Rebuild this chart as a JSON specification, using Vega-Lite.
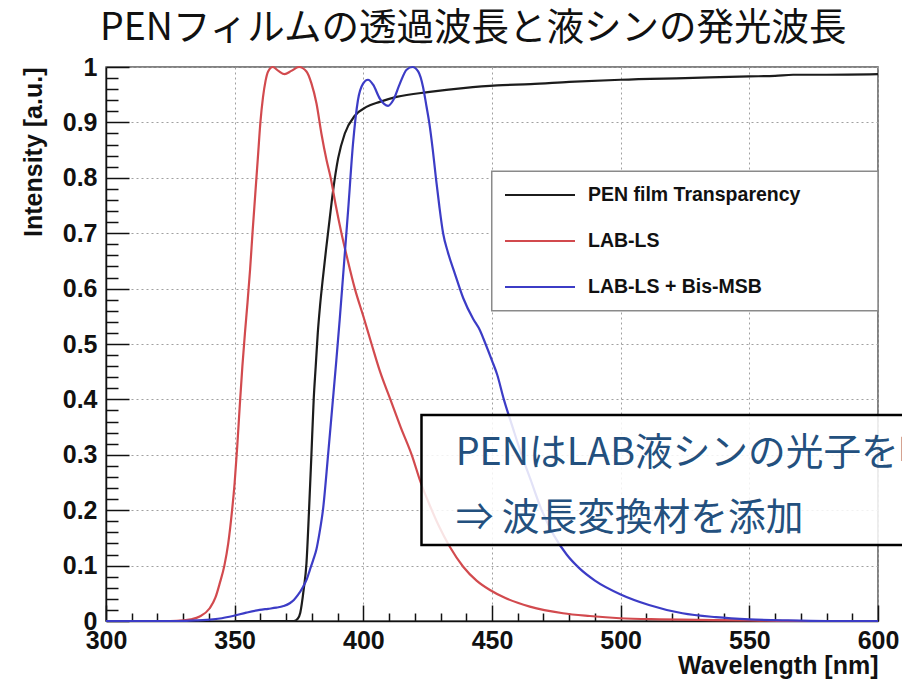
{
  "$schema": "https://vega.github.io/schema/vega-lite/v6.json",
  "width": 772,
  "height": 554,
  "autosize": {"type": "none"},
  "padding": {"left": 106, "top": 67, "right": 24, "bottom": 60},
  "background": "white",
  "title": {
    "text": "PENフィルムの透過波長と液シンの発光波長",
    "font": "Noto Sans CJK JP",
    "fontSize": 37.5,
    "fontWeight": "normal",
    "color": "#111111",
    "anchor": "start",
    "frame": "group",
    "dx": -6,
    "offset": 8
  },
  "config": {
    "view": {"stroke": "#5a5a5a", "strokeWidth": 1.5}
  },
  "datasets": {
    "spectra": [
      {"s": "PEN film Transparency", "wl": 350, "v": 0},
      {"s": "PEN film Transparency", "wl": 373, "v": 0},
      {"s": "PEN film Transparency", "wl": 374.5, "v": 0.004},
      {"s": "PEN film Transparency", "wl": 375.5, "v": 0.015},
      {"s": "PEN film Transparency", "wl": 376.8, "v": 0.056},
      {"s": "PEN film Transparency", "wl": 377.9, "v": 0.104},
      {"s": "PEN film Transparency", "wl": 378.9, "v": 0.2},
      {"s": "PEN film Transparency", "wl": 379.8, "v": 0.297},
      {"s": "PEN film Transparency", "wl": 380.7, "v": 0.399},
      {"s": "PEN film Transparency", "wl": 381.5, "v": 0.46},
      {"s": "PEN film Transparency", "wl": 382.3, "v": 0.52},
      {"s": "PEN film Transparency", "wl": 383.2, "v": 0.57},
      {"s": "PEN film Transparency", "wl": 384.3, "v": 0.62},
      {"s": "PEN film Transparency", "wl": 385.5, "v": 0.67},
      {"s": "PEN film Transparency", "wl": 386.9, "v": 0.725},
      {"s": "PEN film Transparency", "wl": 388.2, "v": 0.775},
      {"s": "PEN film Transparency", "wl": 390.2, "v": 0.835},
      {"s": "PEN film Transparency", "wl": 392.8, "v": 0.88},
      {"s": "PEN film Transparency", "wl": 396.7, "v": 0.912},
      {"s": "PEN film Transparency", "wl": 401.2, "v": 0.928},
      {"s": "PEN film Transparency", "wl": 406.4, "v": 0.937},
      {"s": "PEN film Transparency", "wl": 412.9, "v": 0.946},
      {"s": "PEN film Transparency", "wl": 425.8, "v": 0.955},
      {"s": "PEN film Transparency", "wl": 438.8, "v": 0.962},
      {"s": "PEN film Transparency", "wl": 452, "v": 0.967},
      {"s": "PEN film Transparency", "wl": 465, "v": 0.969},
      {"s": "PEN film Transparency", "wl": 480, "v": 0.973},
      {"s": "PEN film Transparency", "wl": 500, "v": 0.977},
      {"s": "PEN film Transparency", "wl": 525, "v": 0.98},
      {"s": "PEN film Transparency", "wl": 550, "v": 0.983},
      {"s": "PEN film Transparency", "wl": 560, "v": 0.984},
      {"s": "PEN film Transparency", "wl": 567, "v": 0.986},
      {"s": "PEN film Transparency", "wl": 580, "v": 0.986},
      {"s": "PEN film Transparency", "wl": 600, "v": 0.987},

      {"s": "LAB-LS", "wl": 300, "v": 0},
      {"s": "LAB-LS", "wl": 325, "v": 0},
      {"s": "LAB-LS", "wl": 330, "v": 0.001},
      {"s": "LAB-LS", "wl": 333, "v": 0.003},
      {"s": "LAB-LS", "wl": 336.4, "v": 0.008},
      {"s": "LAB-LS", "wl": 340.3, "v": 0.023},
      {"s": "LAB-LS", "wl": 342.5, "v": 0.042},
      {"s": "LAB-LS", "wl": 344.2, "v": 0.068},
      {"s": "LAB-LS", "wl": 346, "v": 0.1},
      {"s": "LAB-LS", "wl": 347.5, "v": 0.14},
      {"s": "LAB-LS", "wl": 349, "v": 0.2},
      {"s": "LAB-LS", "wl": 350, "v": 0.25},
      {"s": "LAB-LS", "wl": 351, "v": 0.315},
      {"s": "LAB-LS", "wl": 352, "v": 0.39},
      {"s": "LAB-LS", "wl": 353, "v": 0.46},
      {"s": "LAB-LS", "wl": 354, "v": 0.52},
      {"s": "LAB-LS", "wl": 355, "v": 0.575},
      {"s": "LAB-LS", "wl": 356, "v": 0.635},
      {"s": "LAB-LS", "wl": 357, "v": 0.705},
      {"s": "LAB-LS", "wl": 358, "v": 0.77},
      {"s": "LAB-LS", "wl": 359, "v": 0.835},
      {"s": "LAB-LS", "wl": 360, "v": 0.9},
      {"s": "LAB-LS", "wl": 361, "v": 0.945},
      {"s": "LAB-LS", "wl": 362, "v": 0.975},
      {"s": "LAB-LS", "wl": 363, "v": 0.992},
      {"s": "LAB-LS", "wl": 364.8, "v": 1.0},
      {"s": "LAB-LS", "wl": 367, "v": 0.993},
      {"s": "LAB-LS", "wl": 369.4, "v": 0.987},
      {"s": "LAB-LS", "wl": 372, "v": 0.993},
      {"s": "LAB-LS", "wl": 375, "v": 1.0},
      {"s": "LAB-LS", "wl": 377.9, "v": 0.992},
      {"s": "LAB-LS", "wl": 379.8, "v": 0.971},
      {"s": "LAB-LS", "wl": 381.8, "v": 0.934},
      {"s": "LAB-LS", "wl": 383.7, "v": 0.88},
      {"s": "LAB-LS", "wl": 385.7, "v": 0.832},
      {"s": "LAB-LS", "wl": 387.3, "v": 0.8},
      {"s": "LAB-LS", "wl": 389.3, "v": 0.75},
      {"s": "LAB-LS", "wl": 391.5, "v": 0.7},
      {"s": "LAB-LS", "wl": 394, "v": 0.65},
      {"s": "LAB-LS", "wl": 396.7, "v": 0.6},
      {"s": "LAB-LS", "wl": 400, "v": 0.55},
      {"s": "LAB-LS", "wl": 403.2, "v": 0.5},
      {"s": "LAB-LS", "wl": 406.5, "v": 0.45},
      {"s": "LAB-LS", "wl": 410.5, "v": 0.4},
      {"s": "LAB-LS", "wl": 414.5, "v": 0.35},
      {"s": "LAB-LS", "wl": 418.8, "v": 0.3},
      {"s": "LAB-LS", "wl": 422.3, "v": 0.25},
      {"s": "LAB-LS", "wl": 425.8, "v": 0.209},
      {"s": "LAB-LS", "wl": 429.5, "v": 0.17},
      {"s": "LAB-LS", "wl": 433.6, "v": 0.134},
      {"s": "LAB-LS", "wl": 438.8, "v": 0.098},
      {"s": "LAB-LS", "wl": 444, "v": 0.073},
      {"s": "LAB-LS", "wl": 449.2, "v": 0.056},
      {"s": "LAB-LS", "wl": 455, "v": 0.042},
      {"s": "LAB-LS", "wl": 464.7, "v": 0.026},
      {"s": "LAB-LS", "wl": 477.6, "v": 0.014},
      {"s": "LAB-LS", "wl": 488, "v": 0.009},
      {"s": "LAB-LS", "wl": 499.7, "v": 0.005},
      {"s": "LAB-LS", "wl": 515, "v": 0.003},
      {"s": "LAB-LS", "wl": 530, "v": 0.002},
      {"s": "LAB-LS", "wl": 550, "v": 0.001},
      {"s": "LAB-LS", "wl": 570, "v": 0},
      {"s": "LAB-LS", "wl": 600, "v": 0},

      {"s": "LAB-LS + Bis-MSB", "wl": 300, "v": 0},
      {"s": "LAB-LS + Bis-MSB", "wl": 328, "v": 0},
      {"s": "LAB-LS + Bis-MSB", "wl": 335, "v": 0.001},
      {"s": "LAB-LS + Bis-MSB", "wl": 341.6, "v": 0.003},
      {"s": "LAB-LS + Bis-MSB", "wl": 345, "v": 0.005},
      {"s": "LAB-LS + Bis-MSB", "wl": 349.3, "v": 0.009},
      {"s": "LAB-LS + Bis-MSB", "wl": 354.5, "v": 0.015},
      {"s": "LAB-LS + Bis-MSB", "wl": 359.7, "v": 0.02},
      {"s": "LAB-LS + Bis-MSB", "wl": 363, "v": 0.022},
      {"s": "LAB-LS + Bis-MSB", "wl": 366.2, "v": 0.024},
      {"s": "LAB-LS + Bis-MSB", "wl": 369, "v": 0.027},
      {"s": "LAB-LS + Bis-MSB", "wl": 371.4, "v": 0.032},
      {"s": "LAB-LS + Bis-MSB", "wl": 373, "v": 0.038},
      {"s": "LAB-LS + Bis-MSB", "wl": 374.6, "v": 0.047},
      {"s": "LAB-LS + Bis-MSB", "wl": 376.6, "v": 0.062},
      {"s": "LAB-LS + Bis-MSB", "wl": 378, "v": 0.075},
      {"s": "LAB-LS + Bis-MSB", "wl": 379.2, "v": 0.092},
      {"s": "LAB-LS + Bis-MSB", "wl": 380.5, "v": 0.11},
      {"s": "LAB-LS + Bis-MSB", "wl": 381.8, "v": 0.13},
      {"s": "LAB-LS + Bis-MSB", "wl": 383, "v": 0.16},
      {"s": "LAB-LS + Bis-MSB", "wl": 384.3, "v": 0.2},
      {"s": "LAB-LS + Bis-MSB", "wl": 386.3, "v": 0.3},
      {"s": "LAB-LS + Bis-MSB", "wl": 388, "v": 0.39},
      {"s": "LAB-LS + Bis-MSB", "wl": 389.5, "v": 0.47},
      {"s": "LAB-LS + Bis-MSB", "wl": 390.8, "v": 0.543},
      {"s": "LAB-LS + Bis-MSB", "wl": 392.1, "v": 0.621},
      {"s": "LAB-LS + Bis-MSB", "wl": 394.1, "v": 0.742},
      {"s": "LAB-LS + Bis-MSB", "wl": 396, "v": 0.862},
      {"s": "LAB-LS + Bis-MSB", "wl": 397.9, "v": 0.94},
      {"s": "LAB-LS + Bis-MSB", "wl": 399.9, "v": 0.97},
      {"s": "LAB-LS + Bis-MSB", "wl": 401.8, "v": 0.977},
      {"s": "LAB-LS + Bis-MSB", "wl": 403.8, "v": 0.968},
      {"s": "LAB-LS + Bis-MSB", "wl": 406.4, "v": 0.943},
      {"s": "LAB-LS + Bis-MSB", "wl": 409.6, "v": 0.93},
      {"s": "LAB-LS + Bis-MSB", "wl": 411.6, "v": 0.94},
      {"s": "LAB-LS + Bis-MSB", "wl": 414.2, "v": 0.97},
      {"s": "LAB-LS + Bis-MSB", "wl": 416.8, "v": 0.995},
      {"s": "LAB-LS + Bis-MSB", "wl": 419.1, "v": 1.0},
      {"s": "LAB-LS + Bis-MSB", "wl": 421.3, "v": 0.992},
      {"s": "LAB-LS + Bis-MSB", "wl": 423.2, "v": 0.964},
      {"s": "LAB-LS + Bis-MSB", "wl": 424.5, "v": 0.93},
      {"s": "LAB-LS + Bis-MSB", "wl": 425.6, "v": 0.9},
      {"s": "LAB-LS + Bis-MSB", "wl": 427, "v": 0.85},
      {"s": "LAB-LS + Bis-MSB", "wl": 428.2, "v": 0.8},
      {"s": "LAB-LS + Bis-MSB", "wl": 429.5, "v": 0.75},
      {"s": "LAB-LS + Bis-MSB", "wl": 431, "v": 0.7},
      {"s": "LAB-LS + Bis-MSB", "wl": 432.9, "v": 0.665},
      {"s": "LAB-LS + Bis-MSB", "wl": 435.5, "v": 0.628},
      {"s": "LAB-LS + Bis-MSB", "wl": 438.8, "v": 0.583},
      {"s": "LAB-LS + Bis-MSB", "wl": 442.7, "v": 0.545},
      {"s": "LAB-LS + Bis-MSB", "wl": 445.3, "v": 0.525},
      {"s": "LAB-LS + Bis-MSB", "wl": 447.5, "v": 0.5},
      {"s": "LAB-LS + Bis-MSB", "wl": 450, "v": 0.47},
      {"s": "LAB-LS + Bis-MSB", "wl": 452, "v": 0.445},
      {"s": "LAB-LS + Bis-MSB", "wl": 454.6, "v": 0.4},
      {"s": "LAB-LS + Bis-MSB", "wl": 458, "v": 0.35},
      {"s": "LAB-LS + Bis-MSB", "wl": 461.5, "v": 0.3},
      {"s": "LAB-LS + Bis-MSB", "wl": 465, "v": 0.255},
      {"s": "LAB-LS + Bis-MSB", "wl": 469.3, "v": 0.2},
      {"s": "LAB-LS + Bis-MSB", "wl": 474, "v": 0.155},
      {"s": "LAB-LS + Bis-MSB", "wl": 479, "v": 0.12},
      {"s": "LAB-LS + Bis-MSB", "wl": 484, "v": 0.095},
      {"s": "LAB-LS + Bis-MSB", "wl": 490, "v": 0.073},
      {"s": "LAB-LS + Bis-MSB", "wl": 500, "v": 0.048},
      {"s": "LAB-LS + Bis-MSB", "wl": 511, "v": 0.029},
      {"s": "LAB-LS + Bis-MSB", "wl": 524, "v": 0.014},
      {"s": "LAB-LS + Bis-MSB", "wl": 537, "v": 0.007},
      {"s": "LAB-LS + Bis-MSB", "wl": 550, "v": 0.003},
      {"s": "LAB-LS + Bis-MSB", "wl": 565, "v": 0.001},
      {"s": "LAB-LS + Bis-MSB", "wl": 580, "v": 0},
      {"s": "LAB-LS + Bis-MSB", "wl": 600, "v": 0}
    ]
  },
  "resolve": {"axis": {"x": "independent", "y": "independent"}},
  "layer": [
    {
      "data": {"name": "spectra"},
      "mark": {"type": "line", "interpolate": "monotone", "strokeWidth": 2.2},
      "encoding": {
        "x": {
          "field": "wl",
          "type": "quantitative",
          "scale": {"domain": [300, 600], "nice": false, "zero": false},
          "axis": {
            "orient": "bottom",
            "values": [300, 350, 400, 450, 500, 550, 600],
            "format": "d",
            "title": "Wavelength [nm]",
            "titleFont": "Liberation Sans",
            "titleFontWeight": "bold",
            "titleFontSize": 25,
            "titleColor": "#111111",
            "titleAnchor": "end",
            "titlePadding": 0,
            "labelFont": "Liberation Sans",
            "labelFontWeight": "bold",
            "labelFontSize": 25,
            "labelColor": "#111111",
            "labelFlush": false,
            "labelOverlap": false,
            "labelPadding": 23,
            "tickSize": -16,
            "tickColor": "#111111",
            "tickWidth": 1.5,
            "domainColor": "#111111",
            "domainWidth": 1.5,
            "grid": true,
            "gridDash": [2, 3],
            "gridColor": "#a0a0a0",
            "gridWidth": 1
          }
        },
        "y": {
          "field": "v",
          "type": "quantitative",
          "scale": {"domain": [0, 1], "nice": false},
          "axis": {
            "orient": "left",
            "values": [0, 0.1, 0.2, 0.3, 0.4, 0.5, 0.6, 0.7, 0.8, 0.9, 1],
            "format": "~g",
            "title": "Intensity [a.u.]",
            "titleFont": "Liberation Sans",
            "titleFontWeight": "bold",
            "titleFontSize": 25,
            "titleColor": "#111111",
            "titleAnchor": "end",
            "titlePadding": 16,
            "labelFont": "Liberation Sans",
            "labelFontWeight": "bold",
            "labelFontSize": 25,
            "labelColor": "#111111",
            "labelOverlap": false,
            "labelPadding": 32,
            "tickSize": -23,
            "tickColor": "#111111",
            "tickWidth": 1.5,
            "domainColor": "#111111",
            "domainWidth": 1.5,
            "grid": true,
            "gridDash": [2, 3],
            "gridColor": "#a0a0a0",
            "gridWidth": 1
          }
        },
        "color": {
          "field": "s",
          "type": "nominal",
          "scale": {
            "domain": ["PEN film Transparency", "LAB-LS", "LAB-LS + Bis-MSB"],
            "range": ["#1c1c1c", "#d24a4e", "#3c3cc6"]
          },
          "legend": {
            "orient": "none",
            "legendX": 398,
            "legendY": 92,
            "title": null,
            "symbolType": "stroke",
            "symbolSize": 4900,
            "symbolStrokeWidth": 2,
            "labelFont": "Liberation Sans",
            "labelFontWeight": "bold",
            "labelFontSize": 19.5,
            "labelColor": "#111111",
            "labelOffset": 12,
            "labelLimit": 400,
            "rowPadding": 0,
            "padding": 0
          }
        }
      }
    },
    {
      "data": {"values": [{}]},
      "mark": {"type": "rect", "fill": "white", "stroke": "#8a8a8a", "strokeWidth": 1.5},
      "encoding": {
        "x": {
          "datum": 449.9,
          "type": "quantitative",
          "axis": {
            "orient": "bottom",
            "values": [310, 320, 330, 340, 360, 370, 380, 390, 410, 420, 430, 440, 460, 470, 480, 490, 510, 520, 530, 540, 560, 570, 580, 590],
            "labels": false,
            "domain": false,
            "grid": false,
            "title": null,
            "tickSize": -8,
            "tickColor": "#111111",
            "tickWidth": 1.5
          }
        },
        "x2": {"datum": 600},
        "y": {
          "datum": 0.812,
          "type": "quantitative",
          "axis": {
            "orient": "left",
            "values": [0.02, 0.04, 0.06, 0.08, 0.12, 0.14, 0.16, 0.18, 0.22, 0.24, 0.26, 0.28, 0.32, 0.34, 0.36, 0.38, 0.42, 0.44, 0.46, 0.48, 0.52, 0.54, 0.56, 0.58, 0.62, 0.64, 0.66, 0.68, 0.72, 0.74, 0.76, 0.78, 0.82, 0.84, 0.86, 0.88, 0.92, 0.94, 0.96, 0.98],
            "labels": false,
            "domain": false,
            "grid": false,
            "title": null,
            "tickSize": -12,
            "tickColor": "#111111",
            "tickWidth": 1.5
          }
        },
        "y2": {"datum": 0.56}
      }
    },
    {
      "data": {"values": [{}]},
      "mark": {"type": "rect", "fill": "white", "fillOpacity": 0.85, "stroke": "#000000", "strokeWidth": 2.5},
      "encoding": {
        "x": {"datum": 422.6, "type": "quantitative", "axis": null},
        "x2": {"datum": 640},
        "y": {"datum": 0.372, "type": "quantitative", "axis": null},
        "y2": {"datum": 0.137}
      }
    },
    {
      "data": {"values": [{}]},
      "mark": {
        "type": "text",
        "text": ["PENはLAB液シンの光子を吸収", "⇒ 波長変換材を添加"],
        "font": "Noto Sans CJK JP",
        "fontSize": 37.7,
        "fontWeight": "normal",
        "color": "#23507e",
        "align": "left",
        "baseline": "alphabetic",
        "lineHeight": 65
      },
      "encoding": {
        "x": {"datum": 435.9, "type": "quantitative", "axis": null},
        "y": {"datum": 0.2815, "type": "quantitative", "axis": null}
      }
    }
  ]
}
